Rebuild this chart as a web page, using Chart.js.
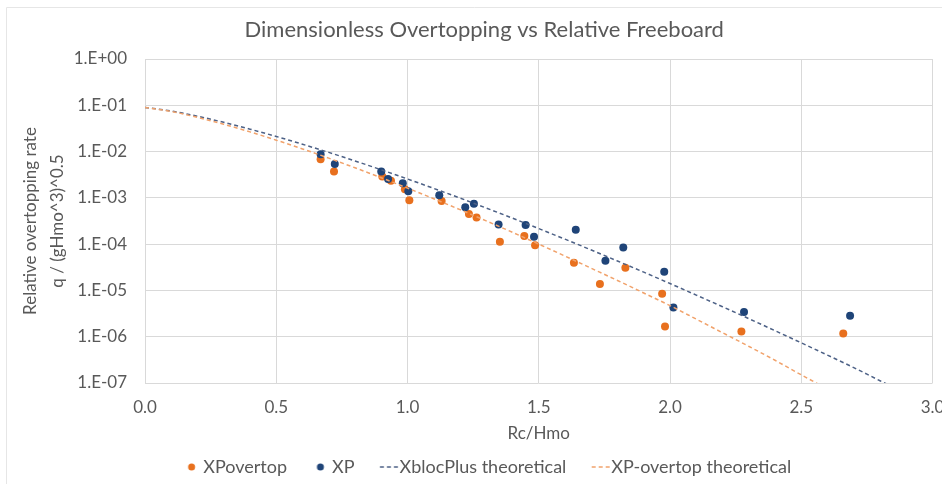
<!DOCTYPE html>
<html><head><meta charset="utf-8">
<script src="https://cdn.jsdelivr.net/npm/chart.js@4.4.1/dist/chart.umd.min.js"></script>
<style>html,body{margin:0;padding:0;background:#fff}#wrap{width:942px;height:484px;position:relative}</style>
</head><body><div id="wrap"><canvas id="c" width="942" height="484"></canvas></div>
<script>
// ---- data ----
const xpOvertopX = [0.669,0.72,0.904,0.937,0.99,1.007,1.13,1.234,1.263,1.352,1.445,1.486,1.634,1.733,1.83,1.97,1.981,2.272,2.66];
const xpOvertopY = [6.8e-3,3.7e-3,2.9e-3,2.33e-3,1.54e-3,8.9e-4,8.6e-4,4.5e-4,3.75e-4,1.12e-4,1.5e-4,9.5e-5,3.96e-5,1.37e-5,3.08e-5,8.45e-6,1.67e-6,1.3e-6,1.18e-6];
const xpX = [0.669,0.723,0.90,0.926,0.982,1.003,1.121,1.22,1.253,1.347,1.45,1.482,1.641,1.754,1.822,1.978,2.013,2.282,2.686];
const xpY = [8.8e-3,5.4e-3,3.7e-3,2.57e-3,2.07e-3,1.39e-3,1.14e-3,6.3e-4,7.5e-4,2.65e-4,2.6e-4,1.44e-4,2.04e-4,4.37e-5,8.45e-5,2.52e-5,4.28e-6,3.4e-6,2.84e-6];
const xblocTheoryX = [0,0.1,0.2,0.3,0.4,0.5,0.6,0.7,0.8,0.9,1.0,1.1,1.2,1.3,1.4,1.5,1.6,1.7,1.8,1.9,2.0,2.1,2.2,2.3,2.4,2.5,2.6,2.7,2.8,2.9];
const xblocTheoryY = [0.09,0.0753,0.0580,0.0428,0.0305,0.0212,0.01441,0.00960,0.00628,0.00404,0.00256,0.00160,0.000990,0.000603,0.000364,0.000217,0.000128,7.48e-5,4.32e-5,2.48e-5,1.41e-5,7.94e-6,4.44e-6,2.46e-6,1.35e-6,7.37e-7,4.00e-7,2.15e-7,1.12e-7,6.0e-8];
const xpTheoryX = [0,0.1,0.2,0.3,0.4,0.5,0.6,0.7,0.8,0.9,1.0,1.1,1.2,1.3,1.4,1.5,1.6,1.7,1.8,1.9,2.0,2.1,2.2,2.3,2.4,2.5,2.6];
const xpTheoryY = [0.09,0.0736,0.0548,0.0389,0.0266,0.01763,0.01139,0.00721,0.00446,0.00272,0.00162,0.000957,0.000556,0.000318,0.000180,0.000100,5.52e-5,3.01e-5,1.64e-5,8.8e-6,4.7e-6,2.4e-6,1.22e-6,6.2e-7,3.1e-7,1.5e-7,7.4e-8];
const yTickValues = [1e-7,1e-6,1e-5,1e-4,1e-3,1e-2,1e-1,1];
const yTickLabels = ['1.E-07','1.E-06','1.E-05','1.E-04','1.E-03','1.E-02','1.E-01','1.E+00'];
const xTickLabels = ['0.0','0.5','1.0','1.5','2.0','2.5','3.0'];
const seriesNames = ['XPovertop','XP','XblocPlus theoretical','XP-overtop theoretical'];
const chartTitle = 'Dimensionless Overtopping vs Relative Freeboard';
const xTitle = 'Rc/Hmo';
const yTitle = ['Relative overtopping rate','q / (gHmo^3)^0.5'];

// ---- styles ----
const TEXT = '#595959', GRID = '#d9d9d9', FONT = 'Lato';
const ORANGE = '#e8701e', BLUE = '#1f4478', BLUE_LINE = '#4d6186', ORANGE_LINE = '#f1a26b';

function pts(xs, ys){ return xs.map((x,i)=>({x:x, y:ys[i]})); }

function dotIcon(color){
  const c = document.createElement('canvas'); c.width = 26; c.height = 10;
  const g = c.getContext('2d'); g.fillStyle = color; g.beginPath(); g.arc(18.8,5,3.5,0,Math.PI*2); g.fill();
  return c;
}
function dashIcon(color){
  const c = document.createElement('canvas'); c.width = 34; c.height = 10;
  const g = c.getContext('2d'); g.strokeStyle = color; g.lineWidth = 1.5; g.setLineDash([4,3]);
  g.beginPath(); g.moveTo(14.8,5); g.lineTo(32.8,5); g.stroke();
  return c;
}
const legendIcons = [dotIcon(ORANGE), dotIcon(BLUE), dashIcon(BLUE_LINE), dashIcon(ORANGE_LINE)];

const framePlugin = {
  id:'frame',
  beforeDraw(chart){
    const ctx = chart.ctx; ctx.save();
    ctx.fillStyle = '#fff'; ctx.fillRect(0,0,chart.width,chart.height);
    ctx.strokeStyle = '#e6e6e6'; ctx.lineWidth = 1;
    ctx.beginPath(); ctx.moveTo(6.5,chart.height); ctx.lineTo(6.5,7.5); ctx.lineTo(chart.width,7.5); ctx.stroke();
    ctx.restore();
  }
};

new Chart(document.getElementById('c'), {
  type: 'scatter',
  data: { datasets: [
    { label: seriesNames[0], data: pts(xpOvertopX, xpOvertopY), backgroundColor: ORANGE, borderWidth: 0, pointRadius: 4, order: 4 },
    { label: seriesNames[1], data: pts(xpX, xpY), backgroundColor: BLUE, borderWidth: 0, pointRadius: 4, order: 3 },
    { label: seriesNames[2], data: pts(xblocTheoryX, xblocTheoryY), showLine: true, borderColor: BLUE_LINE, borderWidth: 1.5, borderDash: [4,3], pointRadius: 0, fill: false, cubicInterpolationMode: 'monotone', order: 2 },
    { label: seriesNames[3], data: pts(xpTheoryX, xpTheoryY), showLine: true, borderColor: ORANGE_LINE, borderWidth: 1.5, borderDash: [4,3], pointRadius: 0, fill: false, cubicInterpolationMode: 'monotone', order: 1 }
  ]},
  options: {
    responsive: false, animation: false, devicePixelRatio: 1,
    layout: { padding: { left: 36, right: 9.5, top: 0, bottom: -2 } },
    plugins: {
      tooltip: { enabled: false },
      title: { display: true, text: chartTitle, color: TEXT, font: { family: FONT, size: 22, weight: 'normal', lineHeight: 1.2 }, padding: { top: 16.8, bottom: 15.8 } },
      legend: {
        position: 'bottom',
        labels: {
          usePointStyle: true, boxWidth: 17, boxHeight: 17, padding: 19, color: TEXT,
          font: { family: FONT, size: 18 },
          generateLabels: () => seriesNames.map((t,i)=>({ text: t, pointStyle: legendIcons[i], fillStyle: 'rgba(0,0,0,0)', strokeStyle: 'rgba(0,0,0,0)', lineWidth: 0, hidden: false, datasetIndex: i, fontColor: TEXT }))
        }
      }
    },
    scales: {
      x: {
        type: 'linear', min: 0, max: 3,
        afterFit(s){ s.height = 56; s.paddingLeft = 0; s.paddingRight = 0; },
        ticks: { stepSize: 0.5, padding: 14, color: TEXT, font: { family: FONT, size: 17 }, callback: (v, i) => xTickLabels[i] },
        grid: { color: GRID, lineWidth: 1, drawTicks: false },
        border: { display: false },
        title: { display: true, text: xTitle, color: TEXT, font: { family: FONT, size: 17, lineHeight: 1.2 }, padding: { top: 0, bottom: -5 } }
      },
      y: {
        type: 'logarithmic', min: 1e-7, max: 1,
        afterBuildTicks(s){ s.ticks = yTickValues.map(v=>({ value: v })); },
        afterFit(s){ s.width = 109; s.paddingTop = 0; s.paddingBottom = 0; },
        ticks: { padding: 18, color: TEXT, font: { family: FONT, size: 17 }, autoSkip: false, callback: (v, i) => yTickLabels[i] },
        grid: { color: GRID, lineWidth: 1, drawTicks: false },
        border: { display: false },
        title: { display: true, text: yTitle, color: TEXT, font: { family: FONT, size: 17, lineHeight: 1.6 }, padding: { top: -19, bottom: 0 } }
      }
    }
  },
  plugins: [framePlugin]
});
</script></body></html>
